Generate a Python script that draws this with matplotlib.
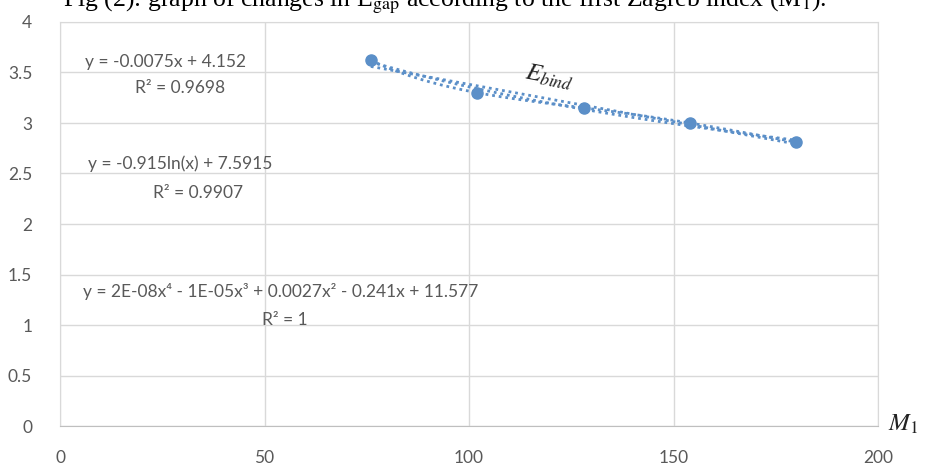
import numpy as np
import matplotlib
matplotlib.use("Agg")
from matplotlib import pyplot as plt

# M1 index vs E_bind
m1 = [76, 102, 128, 154, 180]
e_bind = [3.62, 3.30, 3.15, 3.00, 2.81]

x_ticks = [0, 50, 100, 150, 200]
y_ticks = [0, 0.5, 1, 1.5, 2, 2.5, 3, 3.5, 4]

eq_lines = [
    ("y = -0.0075x + 4.152", "R\u00b2 = 0.9698"),
    ("y = -0.915ln(x) + 7.5915", "R\u00b2 = 0.9907"),
    ("y = 2E-08x\u2074 - 1E-05x\u00b3 + 0.0027x\u00b2 - 0.241x + 11.577", "R\u00b2 = 1"),
]

blue = "#5b8fc8"
grid = "#d9d9d9"
grey_text = "#595959"

plt.rcParams["font.family"] = ["Lato", "DejaVu Sans"]
plt.rcParams["mathtext.fontset"] = "stix"

fig = plt.figure(figsize=(9.26, 4.65), dpi=100)
ax = fig.add_axes([60 / 926, 1 - 426 / 465, 818 / 926, 404 / 465])

x = np.array(m1, dtype=float)
y = np.array(e_bind, dtype=float)
xs = np.linspace(x.min(), x.max(), 200)

# trendlines like Excel: linear, logarithmic, 4th order polynomial
lin = np.polyfit(x, y, 1)
logc = np.polyfit(np.log(x), y, 1)
poly = np.polyfit(x, y, 4)
dots = dict(color=blue, lw=2, ls=(0, (1, 1.4)), zorder=3)
ax.plot(xs, np.polyval(lin, xs), **dots)
ax.plot(xs, np.polyval(logc, np.log(xs)), **dots)
ax.plot(xs, np.polyval(poly, xs), **dots)

ax.plot(x, y, "o", color=blue, ms=8, zorder=4)

ax.set_xlim(0, 200)
ax.set_ylim(0, 4)
ax.set_xticks(x_ticks)
ax.set_yticks(y_ticks)
ax.set_xticklabels([str(t) for t in x_ticks])
ax.set_yticklabels([f"{t:g}" for t in y_ticks])
ax.tick_params(length=0, labelsize=12.5, labelcolor=grey_text)
ax.tick_params(axis="y", pad=20)
ax.tick_params(axis="x", pad=17)
ax.grid(True, color=grid, lw=1)
ax.set_axisbelow(True)
for side in ax.spines.values():
    side.set_color(grid)
ax.spines["bottom"].set_color("#bfbfbf")

# equation labels
eq_kw = dict(fontsize=12.5, color=grey_text, va="center")
ax.text(6.1, 3.60, eq_lines[0][0], ha="left", **eq_kw)
ax.text(29.3, 3.35, eq_lines[0][1], ha="center", **eq_kw)
ax.text(6.8, 2.60, eq_lines[1][0], ha="left", **eq_kw)
ax.text(33.7, 2.31, eq_lines[1][1], ha="center", **eq_kw)
ax.text(5.6, 1.33, eq_lines[2][0], ha="left", **eq_kw)
ax.text(55, 1.05, eq_lines[2][1], ha="center", **eq_kw)

ax.text(119.5, 3.45, r"$E_{bind}$", fontsize=18, rotation=-11,
        ha="center", va="center", color="#222222")
ax.text(202.5, 0.02, r"$M_1$", fontsize=18, ha="left", va="center",
        color="#222222", clip_on=False)

# caption sits half outside the top edge, as in the source image
fig.text(63 / 926, 1 - 6 / 465,
         "Fig (2): graph of changes in E$_{\\mathrm{gap}}$ according to the first Zagreb index (M$_1$).",
         family="Liberation Serif", fontsize=18.5, ha="left", va="baseline",
         math_fontfamily="stix")

fig.savefig("out.png", dpi=100)
